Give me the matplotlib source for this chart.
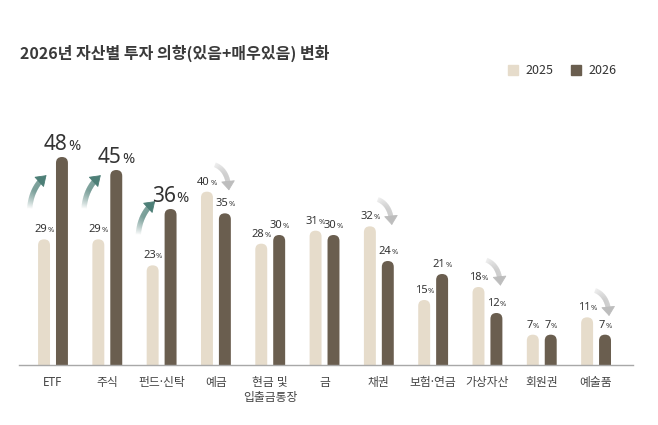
import numpy as np
import matplotlib.pyplot as plt
from matplotlib.patches import FancyBboxPatch, FancyArrowPatch, Patch
from matplotlib.collections import LineCollection
from matplotlib.transforms import offset_copy
from matplotlib.colors import to_rgba

plt.rcParams['font.family'] = ['Noto Sans CJK KR', 'DejaVu Sans']

# data
categories = ['ETF', '주식', '펀드·신탁', '예금', '현금 및\n입출금통장', '금',
              '채권', '보험·연금', '가상자산', '회원권', '예술품']
v2025 = [29, 29, 23, 40, 28, 31, 32, 15, 18, 7, 11]
v2026 = [48, 45, 36, 35, 30, 30, 24, 21, 12, 7, 7]
trend = ['up', 'up', 'up', 'down', '', '', 'down', '', 'down', '', 'down']

LIGHT = '#e6dccb'
DARK = '#6a5e4f'
TEAL = '#4d7f77'
GREY = '#bdbdbd'
TXT = '#333333'

DPI = 100
fig = plt.figure(figsize=(658/DPI, 425/DPI), dpi=DPI)
ax = fig.add_axes([19/658, 60/425, 614/658, 260/425])

x = np.arange(len(categories))
bw = 0.22
off = 0.165
ax.set_xlim(-0.626, 10.68)
ax.set_ylim(0, 60)

for s in ['top', 'right', 'left']:
    ax.spines[s].set_visible(False)
ax.spines['bottom'].set_color('#a8a8a8')
ax.spines['bottom'].set_linewidth(1.0)
ax.set_yticks([])
ax.set_xticks(x, categories)
ax.tick_params(axis='x', length=0, pad=8, labelsize=8.5, labelcolor='#444444')
for lab in ax.get_xticklabels():
    # latin font first so the middle dot stays narrow
    lab.set_family(['Noto Sans', 'Noto Sans CJK KR'])

# aspect of data units, for the round tops
fig.canvas.draw()
bb = ax.get_window_extent()
xpp = (ax.get_xlim()[1] - ax.get_xlim()[0]) / bb.width
ypp = (ax.get_ylim()[1] - ax.get_ylim()[0]) / bb.height
asp = ypp / xpp

bars1 = ax.bar(x - off, v2025, bw, color=LIGHT)
bars2 = ax.bar(x + off, v2026, bw, color=DARK)
for bars in (bars1, bars2):
    for b in bars:
        bx, by, w, h = b.get_x(), b.get_y(), b.get_width(), b.get_height()
        r = w / 2
        b.set_visible(False)
        p = FancyBboxPatch((bx, by - r * asp), w, h + r * asp,
                           boxstyle=f'round,pad=0,rounding_size={r}',
                           mutation_aspect=asp, fc=b.get_facecolor(), ec='none')
        ax.add_patch(p)

# value labels: number + small %
renderer = fig.canvas.get_renderer()


def value_label(xc, v, big=False):
    fs_n, fs_p = (15, 10.5) if big else (8, 5.5)
    y = v + 1.6
    tn = ax.text(xc, y, str(v), fontsize=fs_n, color=TXT, ha='left', va='baseline',
                 family=['Noto Sans', 'DejaVu Sans'])
    tp = ax.text(xc, y, '%', fontsize=fs_p, color=TXT, ha='left', va='baseline',
                 family=['Noto Sans', 'DejaVu Sans'])
    wn = tn.get_window_extent(renderer).width + 0.3
    wp = tp.get_window_extent(renderer).width
    tot = wn + wp
    tn.set_transform(offset_copy(ax.transData, fig, x=-tot/2, y=0, units='dots'))
    tp.set_transform(offset_copy(ax.transData, fig, x=-tot/2 + wn, y=0, units='dots'))


for i in range(len(categories)):
    value_label(x[i] - off, v2025[i])
    value_label(x[i] + off, v2026[i], big=(trend[i] == 'up'))


def curved_arrow(p0, p1, ctrl, color, lw, a0, ramp, hl, hw):
    t = np.linspace(0, 1, 80)[:, None]
    p0, p1, ctrl = np.array(p0), np.array(p1), np.array(ctrl)
    pts = (1 - t)**2 * p0 + 2 * (1 - t) * t * ctrl + t**2 * p1
    n = int(len(pts) * 0.85)
    segs = [pts[k:k+2] for k in range(n)]
    alphas = np.clip(a0 + np.linspace(0, 1, n) * ramp, 0, 1)
    cols = [to_rgba(color, a) for a in alphas]
    ax.add_collection(LineCollection(segs, colors=cols, linewidths=lw, capstyle='butt'))
    ax.add_patch(FancyArrowPatch(pts[n - 4], p1,
                                 arrowstyle=f'-|>,head_length={hl},head_width={hw}',
                                 mutation_scale=10, color=color, lw=0.6,
                                 shrinkA=0, shrinkB=0))


for i, tr in enumerate(trend):
    if tr == 'up':
        p0 = (x[i] - 0.43, v2025[i] + 7.0)
        p1 = (x[i] - 0.12, v2025[i] + 14.8)
        dx, dy = p1[0] - p0[0], p1[1] - p0[1]
        c = (p0[0] + 0.1 * dx, p0[1] + 0.65 * dy)
        curved_arrow(p0, p1, c, TEAL, 3.8, 0.0, 1.8, 0.65, 0.45)
    elif tr == 'down':
        p0 = (x[i] - 0.02, v2025[i] + 6.2)
        p1 = (x[i] + 0.24, v2025[i] + 0.3)
        dx, dy = p1[0] - p0[0], p1[1] - p0[1]
        c = (p0[0] + 0.95 * dx, p0[1] + 0.2 * dy)
        curved_arrow(p0, p1, c, GREY, 3.5, 0.25, 1.2, 0.6, 0.45)

fig.text(20/658, 1 - 53/425, '2026년 자산별 투자 의향(있음+매우있음) 변화',
         fontsize=11.5, fontweight='bold', color='#3a3a3a', va='center', ha='left')

handles = [Patch(color=LIGHT, label='2025'), Patch(color=DARK, label='2026')]
fig.legend(handles=handles, loc='center', bbox_to_anchor=(562/658, 1 - 71/425), ncol=2,
           frameon=False, fontsize=9, handlelength=0.8, handleheight=0.8,
           handletextpad=0.6, columnspacing=1.4, labelcolor='#333333')

fig.savefig('out.png', dpi=DPI, facecolor='white')
